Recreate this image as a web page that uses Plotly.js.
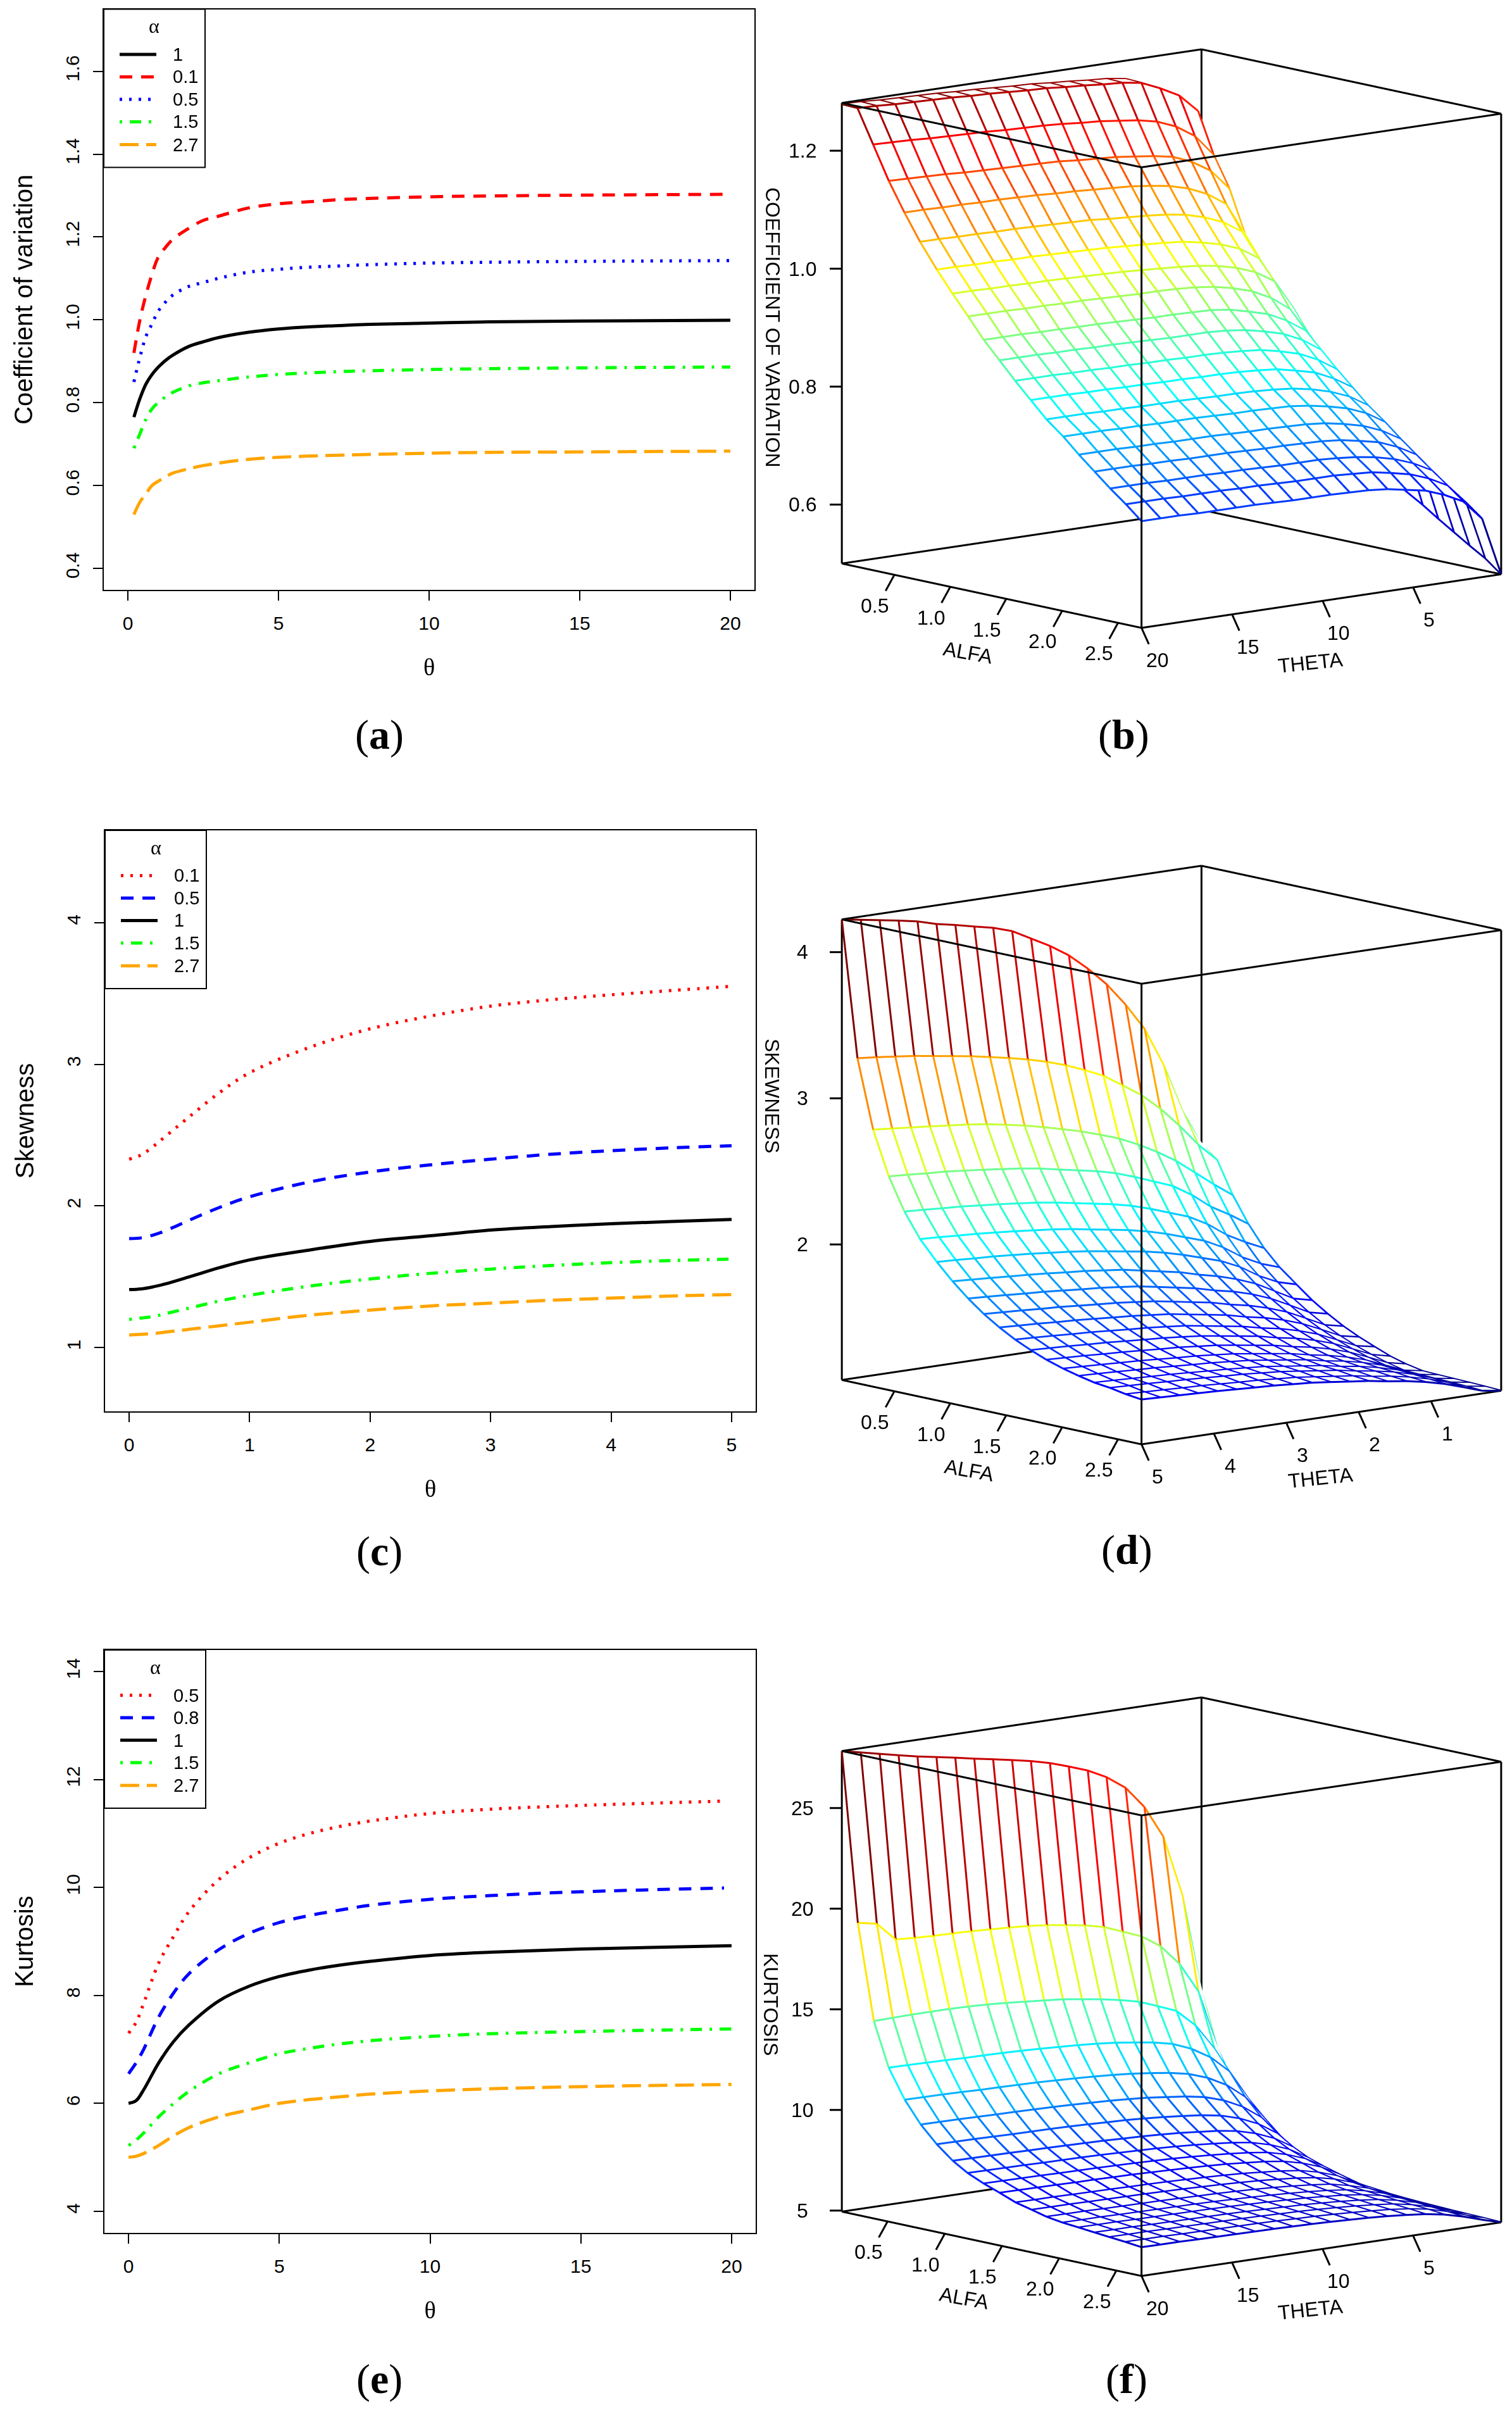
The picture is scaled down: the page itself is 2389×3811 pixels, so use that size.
<!DOCTYPE html>
<html><head><meta charset="utf-8"><script src="https://cdn.plot.ly/plotly-3.0.1.min.js"></script>
<style>html,body{margin:0;padding:0;background:#fff}</style></head><body><div id="g" style="width:2389px;height:3811px"></div>
<script>
// ---------- panel (a) ----------
const thetaA=[0.2,0.4,0.6,0.8,1,1.25,1.5,2,2.5,3,4,5,6,7,8,10,12,15,20];
const cv1=[.765,.81,.845,.868,.885,.902,.915,.935,.947,.957,.970,.978,.983,.986,.989,.992,.995,.997,.999];
const cv01=[.92,1.0,1.06,1.11,1.15,1.175,1.195,1.22,1.24,1.25,1.27,1.28,1.285,1.29,1.293,1.297,1.299,1.301,1.303];
const cv05=[.85,.91,.96,.99,1.02,1.043,1.06,1.08,1.09,1.10,1.115,1.122,1.127,1.13,1.133,1.137,1.139,1.141,1.143];
const cv15=[.69,.725,.76,.785,.80,.814,.825,.84,.848,.853,.862,.868,.872,.875,.877,.88,.882,.884,.886];
const cv27=[.53,.56,.58,.60,.61,.621,.63,.64,.648,.654,.663,.668,.671,.673,.675,.678,.68,.681,.683];
// ---------- panel (c) ----------
const thetaC=[0,.1,.2,.3,.5,.75,1,1.5,2,2.5,3,3.5,4,4.5,5];
const sk01=[2.33,2.36,2.42,2.49,2.63,2.8,2.94,3.12,3.25,3.34,3.41,3.455,3.49,3.52,3.55];
const sk05=[1.77,1.775,1.795,1.825,1.90,1.99,2.065,2.17,2.24,2.29,2.33,2.365,2.39,2.41,2.425];
const sk1=[1.41,1.415,1.43,1.45,1.50,1.565,1.62,1.69,1.75,1.79,1.83,1.855,1.875,1.89,1.905];
const sk15=[1.2,1.21,1.22,1.24,1.28,1.33,1.37,1.435,1.485,1.525,1.555,1.58,1.6,1.615,1.625];
const sk27=[1.09,1.095,1.10,1.11,1.13,1.155,1.18,1.23,1.265,1.295,1.315,1.335,1.35,1.365,1.375];
// ---------- panel (e) ----------
const thetaE=[0,.25,.5,1,1.5,2,3,4,5,6,7,8,10,12,15,20];
const thetaE2=[0,.25,.5,1,1.5,2,3,4,5,6,7,8,10,12,15,19.75];
const ku05=[7.3,7.5,7.85,8.6,9.1,9.55,10.15,10.55,10.82,11.0,11.13,11.23,11.37,11.45,11.52,11.6];
const ku08=[6.55,6.75,7.0,7.6,8.05,8.4,8.85,9.15,9.35,9.48,9.58,9.67,9.78,9.85,9.92,9.99];
const ku1=[6.0,6.05,6.25,6.75,7.15,7.45,7.9,8.17,8.35,8.47,8.56,8.63,8.74,8.8,8.86,8.92];
const ku15=[5.22,5.32,5.45,5.75,6.0,6.22,6.55,6.75,6.92,7.02,7.1,7.16,7.24,7.29,7.33,7.38];
const ku27=[5.0,5.02,5.07,5.22,5.4,5.55,5.75,5.88,6.0,6.07,6.12,6.17,6.23,6.27,6.31,6.35];
// ---------- surfaces ----------
const alfaB=[0.03,0.17,0.31,0.45,0.59,0.73,0.88,1.02,1.16,1.30,1.44,1.58,1.72,1.86,2.01,2.15,2.29,2.43,2.57,2.71];
const thetaB=[20,18.95,17.91,16.86,15.82,14.77,13.73,12.68,11.64,10.59,9.55,8.5,7.46,6.41,5.37,4.32,3.28,2.23,1.19,.14];
const zB=[
[1.279,1.278,1.276,1.275,1.274,1.273,1.271,1.270,1.268,1.266,1.265,1.262,1.260,1.257,1.255,1.250,1.236,1.219,1.188,1.100],
[1.278,1.277,1.275,1.274,1.273,1.272,1.270,1.269,1.267,1.265,1.264,1.261,1.259,1.256,1.254,1.249,1.235,1.218,1.187,1.075],
[1.222,1.221,1.220,1.218,1.217,1.216,1.215,1.213,1.212,1.211,1.209,1.206,1.204,1.200,1.196,1.189,1.176,1.155,1.118,1.002],
[1.166,1.165,1.164,1.163,1.161,1.160,1.159,1.158,1.157,1.156,1.153,1.151,1.149,1.145,1.141,1.135,1.122,1.102,1.067,.956],
[1.118,1.118,1.117,1.117,1.116,1.116,1.115,1.114,1.112,1.111,1.109,1.107,1.105,1.101,1.096,1.087,1.073,1.051,.995,.872],
[1.074,1.074,1.073,1.073,1.072,1.072,1.071,1.070,1.069,1.068,1.065,1.063,1.061,1.058,1.053,1.044,1.031,1.010,.956,.838],
[1.033,1.033,1.032,1.032,1.031,1.031,1.030,1.029,1.028,1.027,1.025,1.023,1.021,1.018,1.012,1.004,.992,.971,.919,.806],
[.998,.998,.997,.997,.996,.996,.995,.994,.993,.992,.990,.988,.986,.983,.978,.970,.958,.938,.888,.778],
[.965,.965,.965,.964,.964,.963,.963,.962,.961,.960,.960,.959,.957,.953,.946,.936,.920,.896,.849,.714],
[.931,.931,.931,.930,.930,.929,.929,.928,.927,.926,.926,.925,.924,.920,.912,.903,.887,.865,.819,.689],
[.902,.902,.902,.901,.901,.900,.900,.899,.898,.897,.897,.897,.895,.891,.884,.875,.860,.838,.794,.667],
[.873,.873,.873,.872,.872,.871,.871,.870,.870,.869,.869,.868,.866,.863,.856,.847,.832,.811,.768,.646],
[.846,.846,.846,.845,.845,.844,.844,.843,.843,.842,.842,.841,.839,.836,.829,.821,.806,.786,.744,.626],
[.819,.819,.819,.818,.818,.817,.817,.817,.816,.815,.815,.814,.812,.809,.803,.794,.781,.761,.721,.606],
[.796,.796,.796,.795,.795,.794,.794,.794,.793,.792,.792,.791,.790,.786,.780,.772,.759,.739,.700,.589],
[.771,.771,.771,.770,.770,.769,.769,.769,.768,.767,.767,.766,.765,.762,.756,.748,.735,.716,.678,.571],
[.748,.748,.748,.747,.747,.746,.746,.746,.745,.744,.744,.743,.742,.739,.733,.726,.713,.695,.658,.554],
[.725,.725,.725,.724,.724,.724,.723,.723,.722,.721,.721,.721,.719,.716,.711,.703,.691,.674,.638,.537],
[.704,.704,.704,.703,.703,.703,.702,.702,.701,.700,.700,.700,.698,.696,.690,.683,.671,.654,.620,.521],
[.681,.681,.681,.680,.680,.680,.680,.679,.678,.678,.678,.677,.676,.673,.667,.661,.649,.633,.599,.500]];
const thetaD=[5,4.738,4.477,4.215,3.954,3.692,3.431,3.169,2.908,2.646,2.385,2.123,1.862,1.6,1.339,1.077,.816,.554,.293,.031];
const zD=[
[4.224,4.202,4.18,4.158,4.133,4.096,4.07,4.04,4.012,3.97,3.90,3.83,3.746,3.636,3.509,3.35,3.166,2.90,2.565,2.317],
[3.297,3.285,3.27,3.255,3.235,3.215,3.195,3.17,3.144,3.115,3.08,3.037,2.985,2.926,2.842,2.756,2.644,2.509,2.359,2.235],
[2.832,2.82,2.808,2.796,2.783,2.77,2.753,2.73,2.705,2.675,2.642,2.607,2.565,2.52,2.46,2.39,2.31,2.21,2.11,2.017],
[2.535,2.527,2.517,2.51,2.497,2.484,2.469,2.454,2.434,2.408,2.383,2.358,2.325,2.28,2.23,2.18,2.10,2.0,1.926,1.842],
[2.317,2.31,2.301,2.294,2.282,2.271,2.257,2.243,2.224,2.201,2.178,2.155,2.125,2.085,2.039,1.993,1.923,1.83,1.761,1.70],
[2.152,2.146,2.137,2.13,2.12,2.109,2.096,2.083,2.066,2.044,2.023,2.001,1.973,1.937,1.894,1.851,1.786,1.70,1.636,1.591],
[2.02,2.014,2.006,2.0,1.99,1.98,1.967,1.955,1.939,1.919,1.899,1.879,1.852,1.818,1.778,1.737,1.677,1.596,1.535,1.499],
[1.911,1.903,1.895,1.886,1.878,1.868,1.856,1.846,1.831,1.816,1.791,1.766,1.741,1.705,1.675,1.635,1.585,1.515,1.445,1.414],
[1.816,1.809,1.801,1.792,1.785,1.774,1.763,1.754,1.74,1.725,1.702,1.678,1.654,1.62,1.593,1.555,1.505,1.44,1.373,1.344],
[1.733,1.726,1.719,1.71,1.704,1.693,1.683,1.674,1.66,1.646,1.624,1.601,1.579,1.546,1.52,1.483,1.437,1.374,1.31,1.282],
[1.664,1.657,1.651,1.642,1.636,1.626,1.616,1.607,1.594,1.581,1.559,1.538,1.516,1.484,1.459,1.424,1.379,1.32,1.258,1.231],
[1.604,1.598,1.591,1.583,1.577,1.567,1.557,1.549,1.537,1.524,1.503,1.482,1.461,1.431,1.407,1.373,1.33,1.272,1.213,1.187],
[1.555,1.549,1.543,1.535,1.529,1.519,1.51,1.502,1.49,1.477,1.457,1.437,1.417,1.387,1.364,1.331,1.289,1.233,1.176,1.145],
[1.512,1.506,1.5,1.492,1.486,1.477,1.468,1.461,1.448,1.436,1.417,1.397,1.377,1.349,1.326,1.294,1.253,1.199,1.143,1.115],
[1.476,1.47,1.464,1.457,1.451,1.442,1.433,1.426,1.414,1.402,1.383,1.364,1.345,1.317,1.294,1.263,1.224,1.17,1.116,1.092],
[1.449,1.444,1.438,1.431,1.426,1.417,1.409,1.402,1.391,1.38,1.362,1.344,1.326,1.299,1.278,1.249,1.211,1.162,1.11,1.088],
[1.426,1.421,1.415,1.409,1.404,1.396,1.388,1.381,1.371,1.361,1.343,1.326,1.309,1.284,1.265,1.237,1.202,1.155,1.106,1.085],
[1.413,1.408,1.403,1.396,1.391,1.384,1.376,1.37,1.359,1.349,1.333,1.316,1.3,1.276,1.256,1.23,1.195,1.15,1.103,1.082],
[1.393,1.388,1.383,1.377,1.373,1.365,1.358,1.352,1.342,1.333,1.317,1.301,1.285,1.262,1.244,1.218,1.186,1.142,1.098,1.078],
[1.38,1.375,1.37,1.365,1.36,1.353,1.346,1.34,1.33,1.321,1.306,1.29,1.275,1.253,1.235,1.21,1.178,1.136,1.092,1.073]];
const alfaF=[0.10,0.24,0.38,0.51,0.65,0.79,0.93,1.07,1.20,1.34,1.48,1.62,1.76,1.89,2.03,2.17,2.31,2.44,2.58,2.72];
const thetaF=[20,18.95,17.91,16.86,15.82,14.77,13.73,12.68,11.64,10.59,9.55,8.5,7.46,6.41,5.37,4.32,3.28,2.23,1.18,.13];
const zF=[
[27.83,27.62,27.41,27.2,27.0,26.83,26.66,26.47,26.3,26.12,25.93,25.69,25.38,25.04,24.57,23.9,22.81,21.19,18.13,13.24],
[19.47,19.28,18.36,18.3,18.26,18.24,18.21,18.16,18.11,18.05,17.95,17.81,17.66,17.44,17.07,16.69,16.07,15.05,13.53,10.55],
[14.76,14.78,14.8,14.8,14.8,14.78,14.74,14.68,14.6,14.52,14.44,14.3,14.16,13.98,13.76,13.4,13.02,12.16,10.85,9.05],
[12.6,12.59,12.57,12.55,12.52,12.51,12.49,12.46,12.42,12.37,12.32,12.25,12.16,12.03,11.89,11.68,11.3,10.74,9.89,8.4],
[11.18,11.17,11.16,11.14,11.11,11.1,11.08,11.06,11.02,10.98,10.93,10.87,10.79,10.68,10.55,10.36,10.03,9.53,8.78,7.6],
[10.12,10.11,10.1,10.08,10.06,10.05,10.03,10.01,9.98,9.94,9.9,9.84,9.77,9.66,9.55,9.38,9.08,8.62,7.94,6.88],
[9.31,9.3,9.29,9.27,9.25,9.24,9.23,9.21,9.18,9.14,9.11,9.05,8.98,8.89,8.79,8.63,8.35,7.93,7.31,6.33],
[8.66,8.65,8.64,8.63,8.61,8.6,8.58,8.56,8.54,8.5,8.47,8.42,8.36,8.27,8.18,8.03,7.77,7.38,6.8,5.95],
[8.21,8.2,8.19,8.18,8.16,8.15,8.14,8.12,8.09,8.06,8.03,7.98,7.92,7.84,7.75,7.61,7.36,6.99,6.44,5.7],
[7.86,7.85,7.84,7.83,7.81,7.8,7.79,7.77,7.75,7.72,7.69,7.64,7.58,7.51,7.42,7.29,7.05,6.7,6.17,5.5],
[7.57,7.56,7.55,7.54,7.52,7.52,7.5,7.49,7.46,7.43,7.4,7.36,7.31,7.23,7.15,7.02,6.79,6.45,5.94,5.35],
[7.26,7.25,7.25,7.23,7.22,7.21,7.19,7.18,7.16,7.13,7.1,7.06,7.01,6.93,6.85,6.73,6.51,6.19,5.7,5.25],
[7.07,7.06,7.06,7.04,7.03,7.02,7.01,6.99,6.97,6.94,6.91,6.87,6.82,6.75,6.67,6.55,6.34,6.02,5.62,5.17],
[6.88,6.87,6.87,6.85,6.84,6.83,6.82,6.8,6.78,6.76,6.73,6.69,6.64,6.57,6.49,6.38,6.17,5.9,5.5,5.12],
[6.76,6.75,6.75,6.73,6.72,6.71,6.7,6.69,6.67,6.64,6.61,6.57,6.52,6.46,6.38,6.27,6.08,5.81,5.43,5.08],
[6.69,6.68,6.68,6.66,6.65,6.64,6.63,6.62,6.6,6.57,6.54,6.5,6.46,6.39,6.32,6.2,6.02,5.75,5.38,5.05],
[6.61,6.6,6.6,6.58,6.57,6.56,6.55,6.54,6.52,6.49,6.46,6.43,6.38,6.32,6.24,6.13,5.95,5.7,5.34,5.02],
[6.54,6.53,6.53,6.51,6.5,6.49,6.48,6.47,6.45,6.42,6.4,6.36,6.31,6.25,6.17,6.07,5.89,5.64,5.3,5.0],
[6.47,6.46,6.46,6.44,6.43,6.42,6.41,6.4,6.38,6.35,6.33,6.29,6.24,6.18,6.11,6.0,5.84,5.58,5.26,4.98],
[6.38,6.37,6.37,6.35,6.34,6.33,6.32,6.31,6.29,6.27,6.24,6.2,6.16,6.1,6.02,5.92,5.76,5.52,5.22,4.95]];
const ticksAlfa=[0.5,1,1.5,2,2.5];

const W=2389,H=3811, SANS='Liberation Sans', SERIF='Liberation Serif';
const jet=[[0,'rgb(0,0,143)'],[.125,'rgb(0,0,255)'],[.375,'rgb(0,255,255)'],[.625,'rgb(255,255,0)'],[.875,'rgb(255,0,0)'],[1,'rgb(128,0,0)']];
const DASHED='20px,14px', DOTTED='4px,11px', DOTDASH='4px,12px,18px,12px', LONG='30px,12px';
const traces=[], layout={width:W,height:H,paper_bgcolor:'#fff',plot_bgcolor:'#fff',margin:{l:0,r:0,t:0,b:0},hovermode:false,annotations:[],shapes:[],showlegend:false};
const px=v=>v/W, py=v=>1-v/H;

function panel2d(n,box,xr,yr,xt,yt,ytitle,dec,series){
  const sx=n==1?'':String(n);
  layout['xaxis'+sx]={domain:[box[0]/W,box[1]/W],range:xr,anchor:'y'+sx,tickvals:xt,ticktext:xt.map(String),showgrid:false,zeroline:false,showline:true,mirror:true,linecolor:'#000',linewidth:2,ticks:'outside',ticklen:15,tickwidth:2,tickcolor:'#000',tickfont:{family:SANS,size:30,color:'#000'},ticklabelstandoff:10,title:{text:'θ',font:{family:SERIF,size:38,color:'#000'},standoff:40}};
  layout['yaxis'+sx]={domain:[1-box[3]/H,1-box[2]/H],range:yr,anchor:'x'+sx,tickvals:yt,ticktext:yt.map(v=>v.toFixed(dec)),tickangle:-90,showgrid:false,zeroline:false,showline:true,mirror:true,linecolor:'#000',linewidth:2,ticks:'outside',ticklen:15,tickwidth:2,tickcolor:'#000',tickfont:{family:SANS,size:30,color:'#000'},ticklabelstandoff:10,title:{text:ytitle,font:{family:SANS,size:40,color:'#000'},standoff:34}};
  series.forEach(s=>traces.push({type:'scatter',mode:'lines',name:s.name,x:s.x,y:s.y,xaxis:'x'+sx,yaxis:'y'+sx,showlegend:false,line:{color:s.color,dash:s.dash,width:5,shape:'spline',smoothing:1}}));
  const L=box[0],T=box[2];
  layout.shapes.push({type:'rect',xref:'paper',yref:'paper',x0:px(L),x1:px(L+160),y0:py(T),y1:py(T+250),fillcolor:'#fff',line:{color:'#000',width:2},layer:'above'});
  layout.annotations.push({xref:'paper',yref:'paper',x:px(L+80),y:py(T+27),text:'α',showarrow:false,xanchor:'center',yanchor:'middle',font:{family:SERIF,size:32,color:'#000'}});
  const rows=[71.5,107,142.5,178,214];
  series.forEach((s,k)=>{
    layout.shapes.push({type:'line',xref:'paper',yref:'paper',x0:px(L+25),x1:px(L+83),y0:py(T+rows[k]),y1:py(T+rows[k]),line:{color:s.color,dash:s.dash,width:5},layer:'above'});
    layout.annotations.push({xref:'paper',yref:'paper',x:px(L+107),y:py(T+rows[k]),text:s.name,showarrow:false,xanchor:'left',yanchor:'middle',font:{family:SANS,size:29,color:'#000'}});
  });
}
panel2d(1,[164,1192,14.5,932],[-.8,20.8],[.348,1.75],[0,5,10,15,20],[.4,.6,.8,1,1.2,1.4,1.6],'Coefficient of variation',1,[
 {name:'1',x:thetaA,y:cv1,color:'#000',dash:'solid'},
 {name:'0.1',x:thetaA,y:cv01,color:'#f00',dash:DASHED},
 {name:'0.5',x:thetaA,y:cv05,color:'#00f',dash:DOTTED},
 {name:'1.5',x:thetaA,y:cv15,color:'#0f0',dash:DOTDASH},
 {name:'2.7',x:thetaA,y:cv27,color:'#ffa500',dash:LONG}]);
panel2d(2,[166,1194,1312,2230],[-.2,5.2],[.551,4.65],[0,1,2,3,4,5],[1,2,3,4],'Skewness',0,[
 {name:'0.1',x:thetaC,y:sk01,color:'#f00',dash:DOTTED},
 {name:'0.5',x:thetaC,y:sk05,color:'#00f',dash:DASHED},
 {name:'1',x:thetaC,y:sk1,color:'#000',dash:'solid'},
 {name:'1.5',x:thetaC,y:sk15,color:'#0f0',dash:DOTDASH},
 {name:'2.7',x:thetaC,y:sk27,color:'#ffa500',dash:LONG}]);
panel2d(3,[165,1194,2607,3528],[-.8,20.8],[3.6,14.4],[0,5,10,15,20],[4,6,8,10,12,14],'Kurtosis',0,[
 {name:'0.5',x:thetaE2,y:ku05,color:'#f00',dash:DOTTED},
 {name:'0.8',x:thetaE2,y:ku08,color:'#00f',dash:DASHED},
 {name:'1',x:thetaE,y:ku1,color:'#000',dash:'solid'},
 {name:'1.5',x:thetaE,y:ku15,color:'#0f0',dash:DOTDASH},
 {name:'2.7',x:thetaE,y:ku27,color:'#ffa500',dash:LONG}]);

const DIR={x:.63,y:.756,z:.179}, EYE=1.19, K=.015, ASPECT=1.724;
function panel3d(idx,cfg){
  const sc='scene'+(idx==1?'':idx), A=cfg.alfa,T=cfg.theta,Z=cfg.z;
  const aLo=Math.min(...A),aHi=Math.max(...A),tLo=Math.min(...T),tHi=Math.max(...T);
  const zLo=cfg.zlim[0],zHi=cfg.zlim[1];
  const aS=aHi-aLo,tS=tHi-tLo,zS=zHi-zLo, M=.12;
  const facet=(i,j)=>(Z[i][j]+Z[i][j+1]+Z[i+1][j]+Z[i+1][j+1])/4;
  let fmin=1e9,fmax=-1e9;
  for(let i=0;i<19;i++)for(let j=0;j<19;j++){const v=facet(i,j);fmin=Math.min(fmin,v);fmax=Math.max(fmax,v);}
  const wx=[],wy=[],wz=[],wc=[];
  const seg=(i1,j1,i2,j2,c)=>{wx.push(T[j1],T[j2],null);wy.push(A[i1],A[i2],null);wz.push(Z[i1][j1],Z[i2][j2],null);wc.push(c,c,c);};
  for(let i=0;i<20;i++)for(let j=0;j<20;j++){
    if(j<19)seg(i,j,i,j+1,facet(Math.min(i,18),j));
    if(i<19)seg(i,j,i+1,j,facet(i,Math.max(j-1,0)));
  }
  const EPS=.004;
  traces.push({type:'surface',scene:sc,x:T.map(v=>v-DIR.x*EPS*tS),y:A.map(v=>v-DIR.y*EPS*aS),z:Z.map(r=>r.map(v=>v-DIR.z*EPS*zS)),
    colorscale:[[0,'#fff'],[1,'#fff']],showscale:false,hoverinfo:'skip',lighting:{ambient:1,diffuse:0,specular:0,roughness:1,fresnel:0},showlegend:false});
  traces.push({type:'scatter3d',mode:'lines',scene:sc,x:wx,y:wy,z:wz,hoverinfo:'skip',showlegend:false,connectgaps:false,
    line:{color:wc,colorscale:jet,cmin:fmin,cmax:fmax,width:6,showscale:false}});
  const bx=[],by=[],bz=[];
  const e=(a,b)=>{bx.push(a[0],b[0],null);by.push(a[1],b[1],null);bz.push(a[2],b[2],null);};
  const c=[[tHi,aLo,zLo],[tHi,aHi,zLo],[tLo,aHi,zLo],[tLo,aLo,zLo]];
  const c2=c.map(p=>[p[0],p[1],zHi]);
  for(let k=0;k<4;k++){e(c[k],c[(k+1)%4]);e(c2[k],c2[(k+1)%4]);e(c[k],c2[k]);}
  traces.push({type:'scatter3d',mode:'lines',scene:sc,x:bx,y:by,z:bz,hoverinfo:'skip',showlegend:false,line:{color:'#000',width:6}});
  const tx=[],ty=[],tz=[],ann=[];
  const tk=(p,q,txt,xs,ys)=>{tx.push(p[0],q[0],null);ty.push(p[1],q[1],null);tz.push(p[2],q[2],null);
    ann.push({x:q[0],y:q[1],z:q[2],text:txt,showarrow:false,xshift:xs,yshift:ys,font:{family:SANS,size:32,color:'#000'}});};
  ticksAlfa.forEach(v=>tk([tHi,v,zLo],[tHi+.0244*tS,v,zLo-.032*zS],v.toFixed(1),-17,-23));
  cfg.tTicks.forEach(v=>tk([v,aHi,zLo],[v,aHi+.0244*aS,zLo-.032*zS],String(v),14,-25));
  cfg.zTicks.forEach(v=>tk([tHi,aLo,v],[tHi+.032*tS,aLo-.0265*aS,v],v.toFixed(cfg.zdec),-31,0));
  traces.push({type:'scatter3d',mode:'lines',scene:sc,x:tx,y:ty,z:tz,hoverinfo:'skip',showlegend:false,line:{color:'#000',width:6}});
  const hide={visible:false,showgrid:false,zeroline:false,showspikes:false};
  const [cx,cy]=cfg.center, half=cfg.half;
  const C={x:.768*K,y:-.64*K,z:0};
  layout[sc]={domain:{x:[(cx-half)/W,Math.min(1,(cx+half)/W)],y:[1-(cy+half)/H,1-(cy-half)/H]},
    xaxis:Object.assign({range:[tLo-M*tS,tHi+M*tS]},hide),yaxis:Object.assign({range:[aLo-M*aS,aHi+M*aS]},hide),zaxis:Object.assign({range:[zLo-M*zS,zHi+M*zS]},hide),
    aspectmode:'manual',aspectratio:{x:ASPECT,y:ASPECT,z:ASPECT},bgcolor:'#fff',annotations:ann,
    camera:{eye:{x:DIR.x*EYE+C.x,y:DIR.y*EYE+C.y,z:DIR.z*EYE},up:{x:0,y:0,z:1},center:C,projection:{type:'orthographic'}}};
  const tf={family:SANS,size:32,color:'#000'};
  cfg.titles.forEach(t=>layout.annotations.push({xref:'paper',yref:'paper',x:t[1]/W,y:1-t[2]/H,text:t[0],textangle:t[3],showarrow:false,font:tf,xanchor:'center',yanchor:'middle'}));
}
panel3d(1,{alfa:alfaB,theta:thetaB,z:zB,zlim:[.5,1.281],tTicks:[5,10,15,20],zTicks:[.6,.8,1,1.2],zdec:1,center:[1843,535],half:532,
  titles:[['ALFA',1529,1031,10],['THETA',2070,1047,-6],['COEFFICIENT OF VARIATION',1221,517,90]]});
panel3d(2,{alfa:alfaB,theta:thetaD,z:zD,zlim:[1.073,4.224],tTicks:[1,2,3,4,5],zTicks:[2,3,4],zdec:0,center:[1843,1825],half:532,
  titles:[['ALFA',1531,2323,10],['THETA',2086,2335,-6],['SKEWNESS',1220,1731,90]]});
panel3d(3,{alfa:alfaF,theta:thetaF,z:zF,zlim:[4.95,27.83],tTicks:[5,10,15,20],zTicks:[5,10,15,20,25],zdec:0,center:[1843,3139],half:532,
  titles:[['ALFA',1523,3631,10],['THETA',2070,3649,-6],['KURTOSIS',1218,3167,90]]});

[['a',599,1161],['b',1775,1161],['c',599,2451],['d',1780,2449],['e',599,3759],['f',1780,3759]].forEach(c=>
  layout.annotations.push({xref:'paper',yref:'paper',x:c[1]/W,y:1-c[2]/H,text:'(<b>'+c[0]+'</b>)',showarrow:false,font:{family:SERIF,size:66,color:'#000'},xanchor:'center',yanchor:'middle'}));

Plotly.newPlot('g',traces,layout,{displayModeBar:false});
</script></body></html>
